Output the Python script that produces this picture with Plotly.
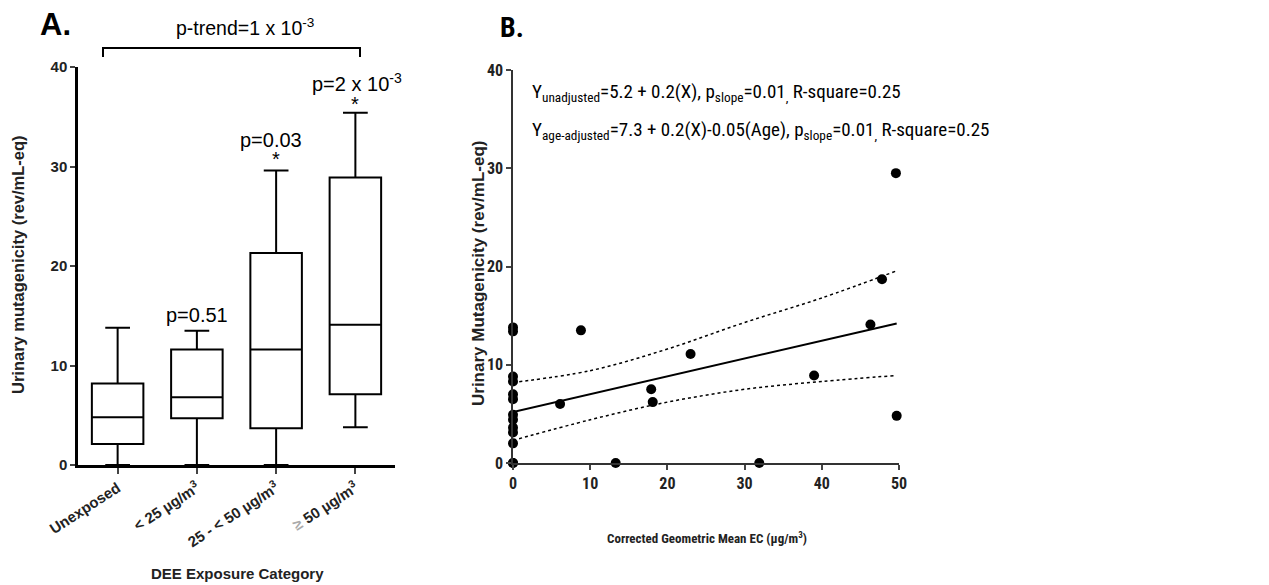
import plotly.graph_objects as go

# ---- panel A: box plot summary stats (rev/mL-eq) ----
categories = ["Unexposed", "&lt; 25 µg/m<sup>3</sup>", "25 - &lt; 50 µg/m<sup>3</sup>",
              "<span style='color:#aaa'>≥</span> 50 µg/m<sup>3</sup>"]
lower_whisker = [0.0, 0.0, 0.0, 3.8]
q1 = [2.1, 4.7, 3.7, 7.1]
medians = [4.8, 6.8, 11.6, 14.1]
q3 = [8.2, 11.6, 21.3, 28.9]
upper_whisker = [13.8, 13.5, 29.6, 35.4]

# ---- panel B: scatter of EC vs mutagenicity ----
ec = [0, 0, 0, 0, 0, 0, 0, 0, 0, 0, 0, 0, 0, 6.1, 8.8, 13.3, 17.9, 18.1, 23.0,
      31.9, 39.0, 46.3, 47.8, 49.6, 49.7]
mutagenicity = [0, 13.8, 13.4, 8.8, 8.3, 7.0, 6.5, 4.9, 4.4, 3.6, 3.1, 2.0, 0,
                6.0, 13.5, 0, 7.5, 6.2, 11.1, 0, 8.9, 14.1, 18.7, 29.5, 4.8]
fit_x = [0, 49.7]
fit_y = [5.2, 14.2]
ci_x = [0, 10, 20, 30, 40, 49.5]
ci_upper = [8.2, 9.4, 11.6, 14.3, 16.8, 19.5]
ci_lower = [2.3, 4.4, 6.2, 7.5, 8.3, 8.9]

W, H = 1269, 585
ARIAL = "Liberation Sans, Arial, sans-serif"
NARROW = "Liberation Sans Narrow, Arial Narrow, Roboto Condensed, sans-serif"

def px_x(p):
    return p / W

def px_y(p):
    return 1 - p / H

fig = go.Figure()

fig.add_trace(go.Box(x=categories, q1=q1, median=medians, q3=q3,
                     lowerfence=lower_whisker, upperfence=upper_whisker,
                     width=0.65, whiskerwidth=0.48, boxpoints=False,
                     fillcolor="white", line=dict(color="black", width=2),
                     xaxis="x", yaxis="y", showlegend=False, hoverinfo="skip"))

fig.add_trace(go.Scatter(x=ci_x, y=ci_upper, mode="lines", line=dict(color="black", width=1.5, dash="dot", shape="spline"),
                         xaxis="x2", yaxis="y2", showlegend=False))
fig.add_trace(go.Scatter(x=ci_x, y=ci_lower, mode="lines", line=dict(color="black", width=1.5, dash="dot", shape="spline"),
                         xaxis="x2", yaxis="y2", showlegend=False))
fig.add_trace(go.Scatter(x=fit_x, y=fit_y, mode="lines", line=dict(color="black", width=2),
                         xaxis="x2", yaxis="y2", showlegend=False))
fig.add_trace(go.Scatter(x=ec, y=mutagenicity, mode="markers", marker=dict(color="black", size=10),
                         cliponaxis=False, xaxis="x2", yaxis="y2", showlegend=False))

axis_common = dict(showgrid=False, zeroline=False, showline=True, ticks="outside", automargin=False)

fig.update_layout(
    width=W, height=H, margin=dict(l=0, r=0, t=0, b=0),
    paper_bgcolor="white", plot_bgcolor="white",
    font=dict(family=ARIAL, color="black"),
    xaxis=dict(axis_common, domain=[px_x(78), px_x(395)], anchor="y", range=[-0.5, 3.5],
               linecolor="black", linewidth=2.5, ticklen=6, tickwidth=2, tickangle=-33,
               tickfont=dict(size=15, weight="bold", color="#222")),
    yaxis=dict(axis_common, domain=[px_y(465), px_y(67)], anchor="x", range=[0, 40],
               tickvals=[0, 10, 20, 30, 40], linecolor="black", linewidth=2.5, ticklen=5, tickwidth=2,
               tickfont=dict(size=15, weight="bold", color="#222")),
    xaxis2=dict(axis_common, domain=[px_x(513), px_x(899)], anchor="y2", range=[0, 50],
                tickvals=[0, 10, 20, 30, 40, 50], linecolor="#333", linewidth=1.5, ticklen=5, tickwidth=1.5,
                tickfont=dict(family=NARROW, size=16, weight="bold", color="#222")),
    yaxis2=dict(axis_common, domain=[px_y(463), px_y(70)], anchor="x2", range=[0, 40],
                tickvals=[0, 10, 20, 30, 40], linecolor="#333", linewidth=1.5, ticklen=5, tickwidth=1.5,
                tickfont=dict(family=NARROW, size=16, weight="bold", color="#222")),
)

# bracket above panel A
fig.add_shape(type="path", xref="paper", yref="paper",
              path=f"M {px_x(103)},{px_y(57)} L {px_x(103)},{px_y(48)} L {px_x(360)},{px_y(48)} L {px_x(360)},{px_y(57)}",
              line=dict(color="black", width=2))

annots = [
    dict(text="<b>A.</b>", x=px_x(38), y=px_y(25), xref="paper", yref="paper", xanchor="left",
         font=dict(size=31)),
    dict(text="<b>B.</b>", x=px_x(498), y=px_y(27), xref="paper", yref="paper", xanchor="left",
         font=dict(family=NARROW, size=28)),
    dict(text="p-trend=1 x 10<sup>-3</sup>", x=px_x(245), y=px_y(27), xref="paper", yref="paper",
         font=dict(size=19.5)),
    dict(text="p=0.51", x=1, y=15.1, xref="x", yref="y", font=dict(size=20)),
    dict(text="p=0.03", x=1.93, y=32.7, xref="x", yref="y", font=dict(size=20)),
    dict(text="*", x=2, y=30.8, xref="x", yref="y", font=dict(size=20)),
    dict(text="p=2 x 10<sup>-3</sup>", x=3.02, y=38.4, xref="x", yref="y", font=dict(size=20)),
    dict(text="*", x=3, y=36.3, xref="x", yref="y", font=dict(size=20)),
    dict(text="<b>Urinary mutagenicity (rev/mL-eq)</b>", x=px_x(18), y=px_y(265), xref="paper", yref="paper",
         textangle=-90, font=dict(size=16.5, color="#222")),
    dict(text="<b>DEE Exposure Category</b>", x=px_x(237), y=px_y(573), xref="paper", yref="paper",
         font=dict(size=15, color="#222")),
    dict(text="<b>Urinary Mutagenicity (rev/mL-eq)</b>", x=px_x(478), y=px_y(274), xref="paper", yref="paper",
         textangle=-90, font=dict(size=17, color="#222")),
    dict(text="<b>Corrected Geometric Mean EC (µg/m<sup>3</sup>)</b>", x=px_x(707), y=px_y(538), xref="paper",
         yref="paper", font=dict(family=NARROW, size=13, color="#222")),
    dict(text="Y<sub>unadjusted</sub>=5.2 + 0.2(X), p<sub>slope</sub>=0.01<sub>,</sub> R-square=0.25",
         x=px_x(530), y=px_y(92), xref="paper", yref="paper", xanchor="left",
         font=dict(family=NARROW, size=19)),
    dict(text="Y<sub>age-adjusted</sub>=7.3 + 0.2(X)-0.05(Age), p<sub>slope</sub>=0.01<sub>,</sub> R-square=0.25",
         x=px_x(530), y=px_y(130), xref="paper", yref="paper", xanchor="left",
         font=dict(family=NARROW, size=19)),
]
for a in annots:
    a.setdefault("showarrow", False)
    a.setdefault("xanchor", "center")
    a.setdefault("yanchor", "middle")
    fig.add_annotation(**a)

# drop the page's default body margin so the figure sits at the window corner
fig.write_html("out.html", config={"displayModeBar": False},
               post_script="document.body.style.margin='0';")
